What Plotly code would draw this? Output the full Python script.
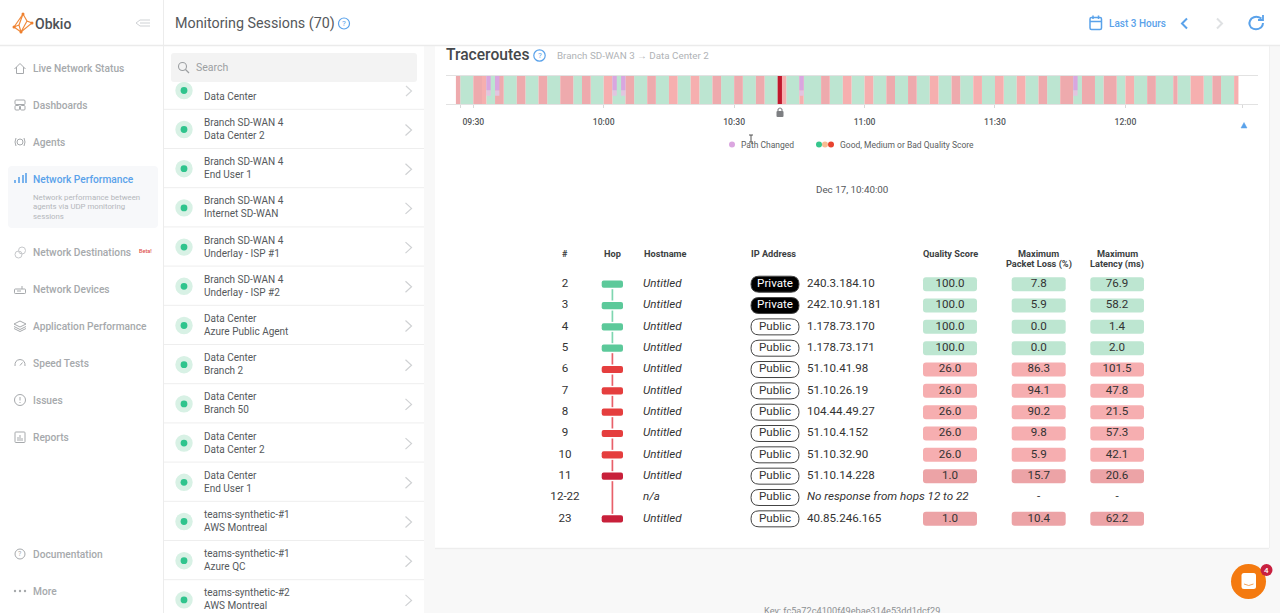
import plotly.graph_objects as go

# timeline strip, minutes after 09:00
seg_start = [26, 27, 30, 32, 33, 35, 37, 40, 42, 45, 47, 50, 53, 55, 57, 60, 62, 65, 67, 70,
             72, 75, 77, 80, 82, 85, 87, 90, 92, 95, 97, 100, 101, 102, 105, 106, 110, 112, 115, 117,
             120, 122, 125, 127, 130, 132, 135, 137, 140, 142, 145, 147, 150, 152, 155, 157, 160, 162, 165, 168,
             170, 173, 175, 178, 180, 182, 185, 187, 191, 192, 195, 198, 200, 202, 205]
seg_end = seg_start[1:] + [206]
seg_level = ['bad', 'good', 'bad', 'medium', 'good', 'bad', 'good', 'bad', 'good', 'bad',
             'good', 'bad', 'good', 'bad', 'good', 'medium', 'good', 'bad', 'good', 'bad',
             'good', 'medium', 'good', 'medium', 'good', 'bad', 'good', 'bad', 'good', 'bad',
             'good', 'dark', 'medium', 'good', 'medium', 'good', 'bad', 'good', 'medium', 'good',
             'medium', 'good', 'bad', 'good', 'bad', 'good', 'medium', 'good', 'bad', 'good',
             'medium', 'good', 'medium', 'good', 'medium', 'good', 'bad', 'good', 'bad', 'good',
             'bad', 'good', 'bad', 'good', 'medium', 'good', 'bad', 'good', 'bad', 'good',
             'medium', 'good', 'bad', 'good', 'medium']
path_changed = [33, 35, 62, 64, 105, 168]
tick_vals = [30, 60, 90, 120, 150, 180]
tick_text = ['09:30', '10:00', '10:30', '11:00', '11:30', '12:00']
edge_ticks = [27, 207]

# hop table
hop_label = ['2', '3', '4', '5', '6', '7', '8', '9', '10', '11', '12-22', '23']
hostname = ['Untitled'] * 10 + ['n/a', 'Untitled']
addr_type = ['Private', 'Private'] + ['Public'] * 10
ip_addr = ['240.3.184.10', '242.10.91.181', '1.178.73.170', '1.178.73.171', '51.10.41.98', '51.10.26.19',
           '104.44.49.27', '51.10.4.152', '51.10.32.90', '51.10.14.228',
           '<i>No response from hops 12 to 22</i>', '40.85.246.165']
quality = [100.0, 100.0, 100.0, 100.0, 26.0, 26.0, 26.0, 26.0, 26.0, 1.0, None, 1.0]
max_loss = [7.8, 5.9, 0.0, 0.0, 86.3, 94.1, 90.2, 9.8, 5.9, 15.7, None, 10.4]
max_latency = [76.9, 58.2, 1.4, 2.0, 101.5, 47.8, 21.5, 57.3, 42.1, 20.6, None, 62.2]
hop_level = ['good'] * 4 + ['bad'] * 5 + ['dark', None, 'dark']

# side panels
nav_items = ['Live Network Status', 'Dashboards', 'Agents', 'Network Performance', 'Network Destinations',
             'Network Devices', 'Application Performance', 'Speed Tests', 'Issues', 'Reports',
             'Documentation', 'More']
nav_y = [68.5, 105, 142, 179, 252.5, 289.5, 326, 363, 400, 437, 554, 591]
session_a = ['Branch SD-WAN 4', 'Branch SD-WAN 4', 'Branch SD-WAN 4', 'Branch SD-WAN 4', 'Branch SD-WAN 4',
             'Data Center', 'Data Center', 'Data Center', 'Data Center', 'Data Center',
             'teams-synthetic-#1', 'teams-synthetic-#1', 'teams-synthetic-#2']
session_b = ['Data Center 2', 'End User 1', 'Internet SD-WAN', 'Underlay - ISP #1', 'Underlay - ISP #2',
             'Azure Public Agent', 'Branch 2', 'Branch 50', 'Data Center 2', 'End User 1',
             'AWS Montreal', 'Azure QC', 'AWS Montreal']

STRIP = {'good': '#bce5d1', 'bad': '#eeaaad', 'medium': '#f6afaf', 'dark': '#c1182c'}
HOP = {'good': '#5cc99a', 'bad': '#e53e3e', 'dark': '#c8203a'}
CELL = {'good': '#bde6d1', 'bad': '#f6aeb0', 'dark': '#eca3a6'}
FONT = 'Roboto'
GREY = '#a6a9ac'
BLUE = '#5aa2ea'
ROW0, ROW_H = 284.2, 21.33

shapes = []
notes = []


def rrect(x0, y0, x1, y1, r, fill, line=None, yref='y', lw=1, ry=None):
    ry = r if ry is None else ry
    p = (f'M{x0+r},{y0} H{x1-r} Q{x1},{y0} {x1},{y0+ry} V{y1-ry} Q{x1},{y1} {x1-r},{y1} '
         f'H{x0+r} Q{x0},{y1} {x0},{y1-ry} V{y0+ry} Q{x0},{y0} {x0+r},{y0} Z')
    shapes.append(dict(type='path', path=p, xref='x', yref=yref, fillcolor=fill, layer='below',
                       line=dict(color=line or fill, width=lw if line else 0)))


def circle(x, y, r, fill='rgba(0,0,0,0)', line=None, lw=1):
    shapes.append(dict(type='circle', xref='x', yref='y', x0=x-r, x1=x+r, y0=y-r, y1=y+r, fillcolor=fill,
                       layer='below', line=dict(color=line or fill, width=lw if line else 0)))


def stroke(p, color=GREY, lw=1, fill='rgba(0,0,0,0)'):
    shapes.append(dict(type='path', path=p, xref='x', yref='y', fillcolor=fill, layer='below',
                       line=dict(color=color, width=lw)))


def label(x, y, text, size=10.5, color='#55595c', anchor='left', weight=400, yref='y'):
    if anchor == 'left':
        x -= 1
    notes.append(dict(x=x, y=y, text=text, xref='x', yref=yref, showarrow=False, xanchor=anchor, yanchor='middle',
                      borderpad=0, font=dict(family=FONT, size=size, color=color, weight=weight)))


# page blocks
rrect(0, 0, 1280, 613, 0, '#f8f8f8')
rrect(0, 0, 163, 613, 0, '#ffffff')
rrect(164, 46, 424, 613, 0, '#ffffff')
rrect(0, 0, 1280, 45, 0, '#ffffff')
rrect(435, 46, 1269, 548, 0, '#ffffff')
stroke('M0,45.5 H1280', '#ebebeb', 1.5)
stroke('M163.5,0 V613', '#ececec', 1)
stroke('M435,548.5 H1269', '#ededed', 1.5)
stroke('M1269.5,46 V548', '#f0f0f0', 1)

# header
label(175, 23, 'Monitoring Sessions (70)', 14.3, '#55585b')
circle(344, 23.5, 5.5, line=BLUE, lw=1.2)
label(344, 23.5, '?', 8, BLUE, 'center')
rrect(1090, 17.5, 1101.5, 29.5, 1.5, 'rgba(0,0,0,0)', BLUE, lw=1.5)
stroke('M1090,21.5 H1101.5 M1093,15.5 V19 M1098.5,15.5 V19', BLUE, 1.5)
label(1109, 23.5, 'Last 3 Hours', 10, BLUE, weight=500)
stroke('M1187,18.5 L1182,23.5 L1187,28.5', BLUE, 2)
stroke('M1217,18.5 L1222,23.5 L1217,28.5', '#dfe1e3', 2)
stroke('M1261.5,18.5 Q1256,15 1251.5,18.5 Q1247.5,23 1251,27.5 Q1256,31 1261,27.5 Q1263,25.5 1263,23', BLUE, 2)
stroke('M1263,15 V20 H1258', BLUE, 1.8)

# logo
stroke('M14,27 L23,14 L27,21 L32,23 L21,32 L19,25 L14,27 M23,14 L19,25 M27,21 L21,32 M14,27 L21,32', '#f08a3c', 1.2)
for lx, ly in [(14, 27), (23, 14), (32, 23), (21, 32)]:
    circle(lx, ly, 1.5, '#ee7f2e')
label(35, 23.5, 'Obkio', 14, '#4d5156', weight=500)
stroke('M136,23 L140,20 H150 M136,23 L140,26 H150 M140,23 H150', '#cfd2d5', 1)

# navigation
rrect(8, 166, 158, 228, 4, '#f7f8fa')
for name, y in zip(nav_items, nav_y):
    on = name == 'Network Performance'
    label(33, y, name, 10.2, BLUE if on else GREY, weight=500)
label(33, 197.5, 'Network performance between', 7.8, '#b4b7ba')
label(33, 206.5, 'agents via UDP monitoring', 7.8, '#b4b7ba')
label(33, 216, 'sessions', 7.8, '#b4b7ba')
label(139, 251, 'Beta!', 5.5, '#e0524d', weight=500)
stroke('M14.5,69 L20,63.5 L25.5,69 M16.5,67 V73.5 H23.5 V67', GREY)
rrect(15, 100, 25, 104.5, 1, 'rgba(0,0,0,0)', GREY)
rrect(15, 105.5, 19.5, 110, 1, 'rgba(0,0,0,0)', GREY)
rrect(20.5, 105.5, 25, 110, 1, 'rgba(0,0,0,0)', GREY)
circle(20, 142, 3, line=GREY)
stroke('M16,138 Q14,142 16,146 M24,138 Q26,142 24,146', GREY)
stroke('M15,183 V180 M19,183 V177 M23,183 V175 M26,183 V173', BLUE, 1.6)
circle(18.5, 254.5, 3.5, line='#c6c8cb')
circle(22, 250.5, 3.5, line='#c6c8cb')
rrect(14.5, 289, 25.5, 293.5, 0.8, 'rgba(0,0,0,0)', GREY)
stroke('M22,289 V286 M17,291 H21', GREY)
stroke('M20,321 L26,324 L20,327 L14,324 Z M14,326.5 L20,329.5 L26,326.5 M14,328.5 L20,331.5 L26,328.5', GREY)
stroke('M15,366 Q14.5,360 20,359.5 Q25.5,360 25,366 M20,365.5 L22.5,362.5', GREY)
circle(20, 400, 5.5, line=GREY)
stroke('M20,397 V400.5 M20,402 V403', GREY)
rrect(15, 432, 25, 442.5, 0.8, 'rgba(0,0,0,0)', GREY)
stroke('M18,441 V437 M20,441 V435 M22,441 V438', GREY)
circle(20, 554, 5, line=GREY)
label(20, 554, '?', 7, GREY, 'center')
for dx in (15, 20, 25):
    circle(dx, 591, 1.2, GREY)

# session list
label(204, 96.5, 'Data Center', 10)
circle(184, 90.5, 8.7, '#d8f1e5')
circle(184, 90.5, 3.4, '#2fc48d')
stroke('M406,86 L411.5,91 L406,96', '#d5d7d9', 1.2)
for i, (a, b) in enumerate(zip(session_a, session_b)):
    top = 122.5 + 39.2 * i
    stroke(f'M164,{top-13.2} H424', '#eeeeee', 1)
    circle(184, top + 7, 8.7, '#d8f1e5')
    circle(184, top + 7, 3.4, '#2fc48d')
    stroke(f'M405.5,{top+2} L411.5,{top+7.5} L405.5,{top+13}', '#cfd1d3', 1.2)
    label(204, top, a, 10)
    label(204, top + 13, b, 10)
rrect(171, 53, 417, 82, 3, '#f3f3f3')
label(196, 67.5, 'Search', 10.5, '#9c9fa2')
circle(182.5, 66.5, 4, line='#9c9fa2', lw=1.1)
stroke('M185.5,69.5 L189,73', '#9c9fa2', 1.2)

# card header and legend
label(446, 55, 'Traceroutes', 15.6, '#45484b', weight=500)
circle(539.5, 55.5, 5.7, line=BLUE, lw=1.2)
label(539.5, 55.5, '?', 8, BLUE, 'center')
label(557, 55.5, 'Branch SD-WAN 3 → Data Center 2', 9.8, '#b0b3b6')
rrect(776.5, 111, 783.5, 117, 1, '#7d7f82')
stroke('M778,111 V109.5 Q780,106.5 782,109.5 V111', '#7d7f82', 1.1)
stroke('M1241,128 L1244,122.5 L1247,128 Z', BLUE, 0.5, BLUE)
circle(732, 144.5, 3, '#dba6e0')
label(741, 144.5, 'Path Changed', 8.5, '#5b5e61')
circle(819, 144.5, 3, '#35c68d')
circle(825, 144.5, 3, '#f7bd94')
circle(831, 144.5, 3, '#e8432f')
label(840, 144.5, 'Good, Medium or Bad Quality Score', 8.5, '#5b5e61')
stroke('M749,135 H753 M751,135 V142 M749,142 H753', '#444444', 0.9)
label(851.5, 189.5, 'Dec 17, 10:40:00', 9.8, '#55585b', 'center')

# table headers
HEAD = 9.2
for x, txt, anc in [(565, '#', 'center'), (612, 'Hop', 'center'), (644, 'Hostname', 'left'), (751, 'IP Address', 'left'),
                    (950, 'Quality Score', 'center')]:
    label(x, 253, txt, HEAD, '#3c3f42', anc, 700)
label(1038.7, 253, 'Maximum', HEAD, '#3c3f42', 'center', 700)
label(1038.7, 264, 'Packet Loss (%)', HEAD, '#3c3f42', 'center', 700)
label(1117, 253, 'Maximum', HEAD, '#3c3f42', 'center', 700)
label(1117, 264, 'Latency (ms)', HEAD, '#3c3f42', 'center', 700)
label(851.5, 610, 'Key: fc5a72c4100f49ebae314e53dd1dcf29', 9.2, '#8d9093', 'center')

# chat bubble
circle(1248.5, 581.5, 17.5, '#f47a10')
rrect(1241.5, 573, 1256, 589, 2.5, '#ffffff')
stroke('M1244,584 Q1248.7,587 1253.5,584', '#f4a35a', 1)
circle(1266.5, 570, 6, '#c8203f')
label(1266.5, 570, '4', 8, '#ffffff', 'center', 500)

# hop table marks
rows = list(range(len(hop_label)))
ry = 1 / ROW_H
for i, lev in enumerate(hop_level):
    pill_fill, pill_text = ('#000000', '#ffffff') if addr_type[i] == 'Private' else ('#ffffff', '#333333')
    rrect(751, i - 8 * ry, 799, i + 8 * ry, 8, pill_fill, '#444444', 'y3', 1, 8 * ry)
    if lev is None:
        continue
    rrect(601.7, i - 3.6 * ry, 623, i + 3.6 * ry, 2, HOP[lev], None, 'y3', ry=2 * ry)
    for x0, x1 in [(923, 977), (1011.7, 1065.7), (1090.3, 1144)]:
        rrect(x0, i - 7 * ry, x1, i + 7 * ry, 3, CELL[lev], None, 'y3', ry=3 * ry)

link_good_y, link_bad_y = [], []
present = [i for i in rows if hop_level[i]]
for a, b in zip(present, present[1:]):
    target = link_good_y if hop_level[b] == 'good' else link_bad_y
    target += [a + 5 * ry, b - 5 * ry, None]

fig = go.Figure()
for lev, col in STRIP.items():
    picked = [(s, e) for s, e, l in zip(seg_start, seg_end, seg_level) if l == lev]
    fig.add_trace(go.Bar(x=[(s + e) / 2 for s, e in picked], y=[1] * len(picked), width=[e - s for s, e in picked],
                         marker=dict(color=col, line_width=0), xaxis='x2', yaxis='y2', hoverinfo='skip'))
mid = [t + 0.5 for t in path_changed]
fig.add_trace(go.Bar(x=mid, y=[0.2] * 6, base=0.3, width=[1] * 6, marker=dict(color='#e2c4e0', line_width=0),
                     xaxis='x2', yaxis='y2', hoverinfo='skip'))
fig.add_trace(go.Bar(x=mid, y=[0.5] * 6, base=0.5, width=[1] * 6, marker=dict(color='#d9a6e0', line_width=0),
                     xaxis='x2', yaxis='y2', hoverinfo='skip'))

fig.add_trace(go.Scatter(x=[612.4] * len(link_good_y), y=link_good_y, mode='lines', xaxis='x', yaxis='y3',
                         line=dict(color='#7fd6b0', width=1.7), hoverinfo='skip'))
fig.add_trace(go.Scatter(x=[612.4] * len(link_bad_y), y=link_bad_y, mode='lines', xaxis='x', yaxis='y3',
                         line=dict(color='#e8606a', width=1.7), hoverinfo='skip'))


def cells(xs, ys, texts, color='#333333', size=11.6, pos='middle center'):
    fig.add_trace(go.Scatter(x=xs, y=ys, text=texts, mode='text', textposition=pos, xaxis='x', yaxis='y3',
                             textfont=dict(family=FONT, size=size, color=color), hoverinfo='skip'))


cells([565] * 12, rows, hop_label)
cells([643] * 12, rows, [f'<i>{h}</i>' for h in hostname], pos='middle right')
cells([807] * 12, rows, ip_addr, pos='middle right')
for kind, col in (('Private', '#ffffff'), ('Public', '#333333')):
    idx = [i for i in rows if addr_type[i] == kind]
    cells([775] * len(idx), idx, [kind] * len(idx), col)
for cx, vals in ((950, quality), (1038.7, max_loss), (1117, max_latency)):
    idx = [i for i in rows if vals[i] is not None]
    cells([cx] * len(idx), idx, [f'{vals[i]:.1f}' for i in idx])
cells([1038.7, 1117], [10, 10], ['-', '-'])

fig.update_layout(
    width=1280, height=613, margin=dict(l=0, r=0, t=0, b=0), showlegend=False, barmode='overlay',
    paper_bgcolor='#ffffff', plot_bgcolor='rgba(0,0,0,0)', shapes=shapes, annotations=notes,
    xaxis=dict(domain=[0, 1], range=[0, 1280], visible=False, fixedrange=True),
    yaxis=dict(domain=[0, 1], range=[613, 0], visible=False, fixedrange=True),
    yaxis3=dict(domain=[0, 1], range=[(613 - ROW0) / ROW_H, -ROW0 / ROW_H], visible=False, overlaying='y', anchor='x'),
    xaxis2=dict(domain=[446 / 1280, 1258 / 1280], range=[23.72, 210.5], anchor='y2',
                tickmode='array', tickvals=tick_vals + edge_ticks, ticktext=tick_text + ['', ''],
                ticks='outside', ticklen=3, tickcolor='#d9d9d9', ticklabelstandoff=6,
                tickfont=dict(family=FONT, size=8.6, color='#55585b', weight=500),
                showgrid=False, zeroline=False, showline=True, linecolor='#e2e2e2', linewidth=1, mirror=True),
    yaxis2=dict(domain=[1 - 104.3 / 613, 1 - 76 / 613], range=[0, 1], visible=False),
)

fig.write_html('out.html', config=dict(displayModeBar=False),
               post_script="document.body.style.margin='0';document.body.style.overflow='hidden';")
